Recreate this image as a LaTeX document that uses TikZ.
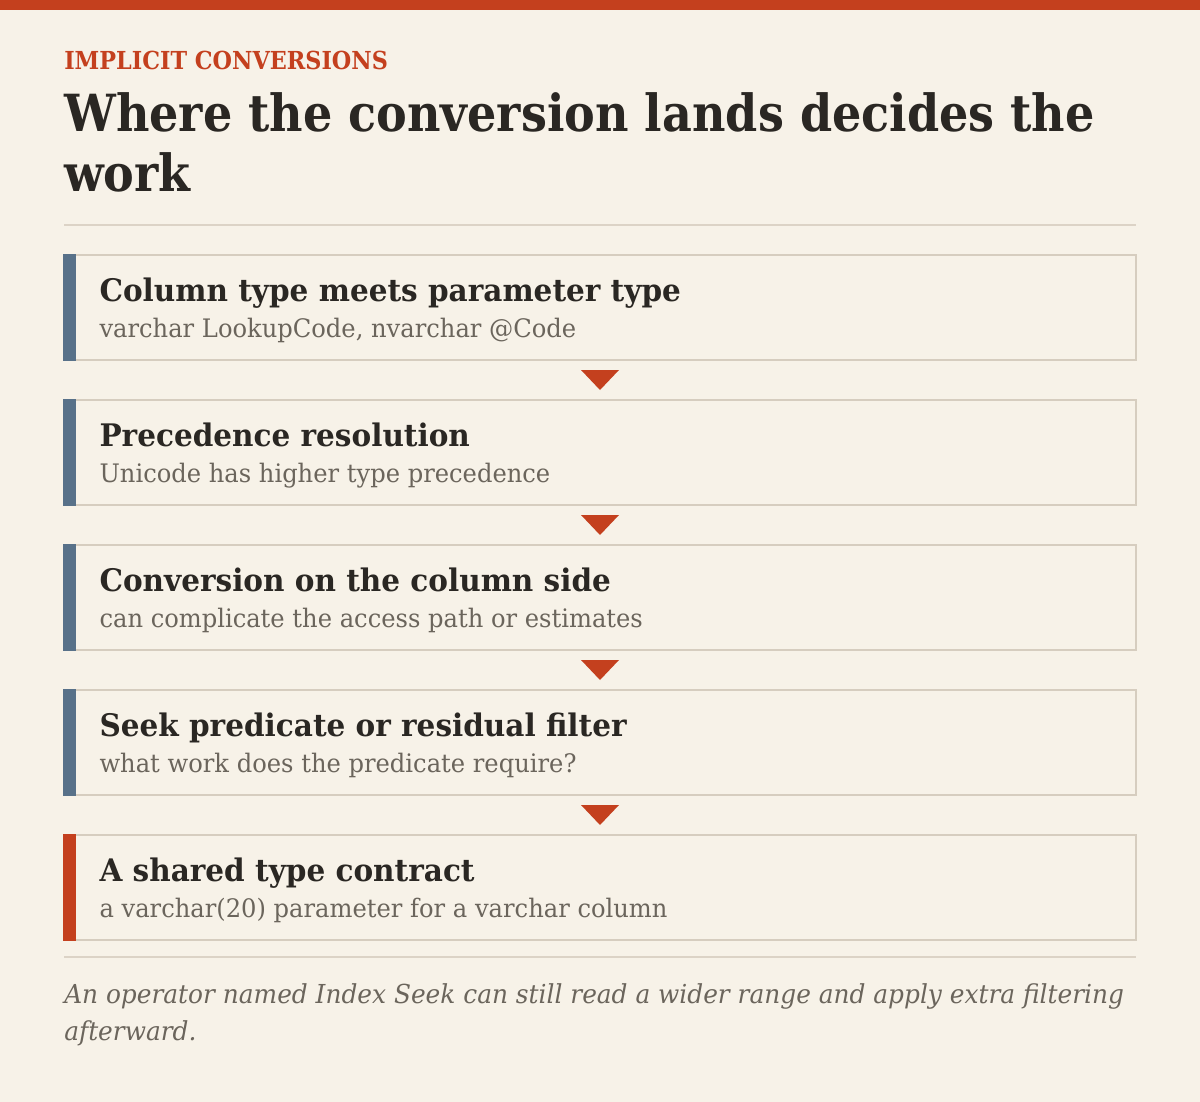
\documentclass[tikz,border=0pt]{standalone}
\usepackage{fontspec}
\setmainfont[FakeStretch=0.9]{DejaVu Serif}
\newfontfamily\widefont[FakeStretch=0.95]{DejaVu Serif}
\usepackage{tikz}
\usetikzlibrary{positioning}
\definecolor{paper}{HTML}{F7F2E8}
\definecolor{rust}{HTML}{C4401E}
\definecolor{slate}{HTML}{587189}
\definecolor{boxline}{HTML}{D6CDBF}
\definecolor{rulegray}{HTML}{DCD3C6}
\definecolor{ink}{HTML}{2A2723}
\definecolor{muted}{HTML}{6B655C}
\tikzstyle{kicker} = [anchor=base west, inner sep=0pt, text=rust, font=\bfseries\fontsize{18.6}{22}\selectfont]
\tikzstyle{headline} = [anchor=base west, inner sep=0pt, text=ink, font=\bfseries\fontsize{38.4}{44}\selectfont]
\tikzstyle{stepbox} = [rectangle, minimum width=804pt, minimum height=78.75pt, inner sep=0pt, draw=boxline, line width=1.1pt, fill=paper]
\tikzstyle{head} = [anchor=base west, inner sep=0pt, text=ink, font=\widefont\bfseries\fontsize{23.3}{27}\selectfont]
\tikzstyle{note} = [anchor=base west, inner sep=0pt, text=muted, font=\widefont\fontsize{19.1}{22}\selectfont]
\tikzstyle{caption} = [anchor=base west, inner sep=0pt, text=muted, font=\widefont\itshape\fontsize{19.6}{22}\selectfont]
\tikzstyle{rule} = [draw=rulegray, line width=1.5pt]
\tikzstyle{tri} = [fill=rust]

\begin{document}
\begin{tikzpicture}[node distance=108.75pt]
	\useasboundingbox[fill=paper] (0,0) rectangle (900pt,-826.5pt);
	\fill[rust] (0,0) rectangle (900pt,-7.5pt);
	
	\node[kicker](kicker) at (48pt,-52.5pt){IMPLICIT CONVERSIONS};
	\node[headline](title_a) at (48pt,-99pt){Where the conversion lands decides the};
	\node[headline](title_b) at (48pt,-144pt){work};
	\draw[rule] (48pt,-168.75pt) -- (852pt,-168.75pt);
	
	\node[stepbox](col_param) at (450pt,-230.625pt){};
	\node[stepbox, below of=col_param](precedence){};
	\node[stepbox, below of=precedence](col_side){};
	\node[stepbox, below of=col_side](seek_filter){};
	\node[stepbox, below of=seek_filter](contract){};
	
	\fill[slate] (col_param.north west) rectangle ([xshift=9.75pt]col_param.south west);
	\fill[slate] (precedence.north west) rectangle ([xshift=9.75pt]precedence.south west);
	\fill[slate] (col_side.north west) rectangle ([xshift=9.75pt]col_side.south west);
	\fill[slate] (seek_filter.north west) rectangle ([xshift=9.75pt]seek_filter.south west);
	\fill[rust] (contract.north west) rectangle ([xshift=9.75pt]contract.south west);
	
	\node[head] (col_param_head) at ([xshift=27pt,yshift=-35.25pt]col_param.north west){Column type meets parameter type};
	\node[note] (col_param_note) at ([xshift=27pt,yshift=-62.25pt]col_param.north west){varchar LookupCode, nvarchar @Code};
	\node[head] (precedence_head) at ([xshift=27pt,yshift=-35.25pt]precedence.north west){Precedence resolution};
	\node[note] (precedence_note) at ([xshift=27pt,yshift=-62.25pt]precedence.north west){Unicode has higher type precedence};
	\node[head] (col_side_head) at ([xshift=27pt,yshift=-35.25pt]col_side.north west){Conversion on the column side};
	\node[note] (col_side_note) at ([xshift=27pt,yshift=-62.25pt]col_side.north west){can complicate the access path or estimates};
	\node[head] (seek_filter_head) at ([xshift=27pt,yshift=-35.25pt]seek_filter.north west){Seek predicate or residual filter};
	\node[note] (seek_filter_note) at ([xshift=27pt,yshift=-62.25pt]seek_filter.north west){what work does the predicate require?};
	\node[head] (contract_head) at ([xshift=27pt,yshift=-35.25pt]contract.north west){A shared type contract};
	\node[note] (contract_note) at ([xshift=27pt,yshift=-62.25pt]contract.north west){a varchar(20) parameter for a varchar column};
	
	% arrow heads between the steps
	\path (col_param) -- (precedence) coordinate[midway](tip_a);
	\path (precedence) -- (col_side) coordinate[midway](tip_b);
	\path (col_side) -- (seek_filter) coordinate[midway](tip_c);
	\path (seek_filter) -- (contract) coordinate[midway](tip_d);
	\fill[tri] ([shift={(-14.25pt,7.5pt)}]tip_a) -- ++(28.5pt,0) -- ++(-14.25pt,-15pt) -- cycle;
	\fill[tri] ([shift={(-14.25pt,7.5pt)}]tip_b) -- ++(28.5pt,0) -- ++(-14.25pt,-15pt) -- cycle;
	\fill[tri] ([shift={(-14.25pt,7.5pt)}]tip_c) -- ++(28.5pt,0) -- ++(-14.25pt,-15pt) -- cycle;
	\fill[tri] ([shift={(-14.25pt,7.5pt)}]tip_d) -- ++(28.5pt,0) -- ++(-14.25pt,-15pt) -- cycle;
	
	\draw[rule] (48pt,-717.75pt) -- (852pt,-717.75pt);
	\node[caption](remark_a) at (48pt,-752.25pt){An operator named Index Seek can still read a wider range and apply extra filtering};
	\node[caption](remark_b) at (48pt,-780pt){afterward.};
\end{tikzpicture}
\end{document}
